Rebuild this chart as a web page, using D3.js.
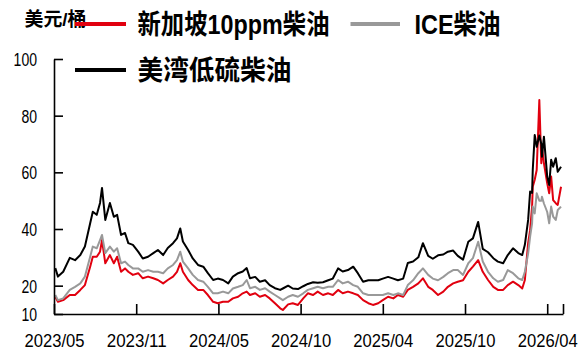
<!DOCTYPE html>
<html>
<head>
<meta charset="utf-8">
<script src="https://cdn.jsdelivr.net/npm/d3@7"></script>
<style>
  html, body { margin: 0; padding: 0; background: #fff; }
  svg { display: block; }
</style>
</head>
<body>
<svg id="chart" width="588" height="352"></svg>
<script>
// Trading-session index of each sample (session 0 = start of 2023/05)
const sessions = [
  2, 6, 14, 24, 32, 40, 47, 55, 59, 65, 70, 73, 78, 85, 91, 96, 102, 108, 113, 120,
  128, 135, 143, 151, 158, 166, 173, 181, 187, 192, 196, 204, 211, 219, 227, 234, 242, 249, 257, 265,
  272, 280, 287, 293,
  298, 306, 313, 321, 328, 336, 344, 348, 356, 363, 371, 379, 386, 394, 401, 409, 417, 424, 432, 439,
  447, 455, 462, 470, 478, 485, 493, 500, 508, 516, 523, 531, 538, 546, 554, 561, 569, 576, 584, 592,
  599, 607, 614, 622, 630, 637, 645, 652, 660,
  668, 675, 683, 690, 698, 706, 712, 716, 721, 724, 727, 728, 731, 734, 738, 741, 742, 745, 750, 753,
  756, 759, 763, 766, 771
];

// 新加坡10ppm柴油 (USD/bbl)
const singapore10ppm = [
  16.1, 14.3, 14.9, 16.7, 16.7, 18.5, 20.2, 26.7, 30.2, 30.2, 32.0, 36.1, 27.9, 30.8, 27.9, 30.2, 24.9, 26.1, 24.9, 23.8,
  24.4, 22.6, 23.2, 22.6, 22.0, 20.8, 22.0, 23.2, 24.9, 27.9, 24.9, 22.0, 20.2, 18.5, 18.5, 16.7, 14.3, 13.8, 14.3, 14.3,
  15.5, 16.1, 17.3, 17.9,
  16.7, 17.3, 16.1, 16.7, 15.5, 13.8, 12.0, 11.4, 13.4, 13.8, 13.2, 15.5, 17.3, 16.7, 17.9, 16.7, 17.3, 16.7, 18.5, 17.3,
  17.9, 17.3, 16.7, 14.9, 13.8, 13.2, 13.8, 14.9, 16.1, 15.5, 16.7, 16.1, 18.5, 19.6, 20.8, 22.6, 19.6, 18.5, 16.7, 17.9,
  19.6, 20.8, 21.4, 21.9, 24.9, 26.7, 29.0, 24.9, 22.0,
  19.6, 18.5, 18.5, 20.2, 21.4, 20.2, 19.0, 22.0, 35.0, 39.6, 47.9, 54.9, 57.4, 60.8, 85.5, 63.2, 69.0, 63.2, 56.1, 52.6,
  58.5, 50.2, 49.1, 48.5, 54.9
];

// ICE柴油 (USD/bbl)
const iceGasoil = [
  16.7, 14.9, 15.5, 18.5, 19.6, 20.8, 23.2, 30.2, 33.8, 33.2, 36.1, 37.9, 31.5, 33.8, 32.0, 33.2, 27.9, 28.5, 27.3, 26.1,
  26.1, 24.9, 25.5, 24.9, 24.9, 24.4, 26.1, 27.3, 29.0, 32.0, 28.5, 26.1, 23.8, 22.0, 21.4, 19.6, 17.3, 17.3, 17.9, 17.3,
  19.0, 19.6, 20.2, 22.0,
  19.1, 19.6, 18.5, 19.1, 17.9, 16.7, 15.5, 14.9, 16.1, 16.7, 16.1, 17.3, 18.5, 19.1, 19.6, 19.1, 19.6, 19.6, 22.0, 20.8,
  21.4, 20.2, 19.6, 17.3, 16.7, 16.7, 16.7, 16.7, 17.3, 16.7, 17.3, 16.7, 20.2, 21.9, 24.4, 26.1, 23.8, 22.5, 21.9, 23.1,
  24.4, 25.5, 25.5, 23.8, 27.9, 29.7, 35.5, 28.5, 24.9,
  22.6, 21.4, 22.0, 25.5, 24.4, 22.6, 22.0, 24.9, 31.4, 37.3, 42.0, 47.9, 45.5, 52.6, 50.0, 50.0, 51.4, 49.0, 46.0, 42.0,
  47.9, 44.4, 43.2, 46.7, 47.9
];

// 美湾低硫柴油 (USD/bbl)
const usGulfUlsd = [
  26.2, 23.2, 24.9, 29.8, 29.0, 30.8, 33.8, 42.0, 46.1, 45.0, 49.2, 54.5, 43.2, 49.2, 44.3, 45.0, 37.9, 38.6, 35.0, 34.4,
  32.0, 29.6, 30.2, 31.5, 32.6, 30.8, 33.3, 35.0, 36.7, 40.2, 35.6, 32.6, 29.6, 27.3, 26.7, 24.4, 22.0, 22.5, 22.0, 20.8,
  23.2, 24.4, 25.0, 26.2,
  22.6, 23.1, 21.4, 21.9, 20.2, 19.1, 18.5, 19.0, 20.0, 19.0, 18.8, 19.8, 20.6, 21.2, 21.0, 21.2, 21.9, 22.5, 26.1, 25.0,
  25.5, 26.7, 24.4, 21.4, 21.9, 21.9, 21.9, 22.5, 23.1, 22.5, 21.9, 22.5, 28.0, 28.5, 30.0, 35.0, 30.5, 29.5, 30.7, 31.0,
  32.0, 32.4, 30.5, 29.2, 35.5, 36.7, 42.5, 33.0, 31.8,
  29.7, 28.5, 27.9, 30.8, 33.2, 31.5, 30.8, 34.4, 43.2, 53.2, 52.7, 60.8, 73.2, 69.0, 73.0, 70.0, 65.5, 72.6, 58.5, 55.5,
  64.4, 62.0, 65.0, 60.2, 62.0
];

const seriesNames = ["新加坡10ppm柴油", "ICE柴油", "美湾低硫柴油"];
const seriesColors = ["#e1000f", "#999999", "#000000"];

const xTickSessions = [0, 125, 250, 375, 500, 625, 750, 774];
const xTickLabels = ["2023/05", "2023/11", "2024/05", "2024/10", "2025/04", "2025/10", "2026/04", ""];
const yTickValues = [10, 20, 40, 60, 80, 100];
const unitLabel = "美元/桶";

const svg = d3.select("#chart");
const numFont = "'Liberation Sans Narrow', 'Liberation Sans', Arial, sans-serif";
const cjkFont = "'Liberation Sans', 'Noto Sans CJK SC', sans-serif";

const x = d3.scaleLinear().domain([0, 774]).range([54, 563]);
const y = d3.scaleLinear().domain([10, 100]).range([314, 59]);

// Series lines
const series = [singapore10ppm, iceGasoil, usGulfUlsd];
const line = d3.line()
  .x((d, i) => x(sessions[i]))
  .y(d => y(d));

svg.append("g").selectAll("path")
  .data(series)
  .join("path")
  .attr("d", d => line(d))
  .attr("fill", "none")
  .attr("stroke", (d, i) => seriesColors[i])
  .attr("stroke-width", 2)
  .attr("stroke-linejoin", "round");

// Y axis: ticks point into the plot
const yAxis = svg.append("g")
  .attr("transform", "translate(54,0)")
  .call(d3.axisLeft(y).tickValues(yTickValues).tickSizeInner(-9).tickSizeOuter(0).tickPadding(17));
yAxis.select(".domain").attr("stroke", "#000").attr("stroke-width", 1.6);
yAxis.selectAll(".tick line").attr("stroke", "#000").attr("stroke-width", 1.6);
yAxis.selectAll(".tick text")
  .attr("font-family", numFont)
  .attr("font-size", 18)
  .attr("fill", "#000")
  .attr("dy", "0.36em")
  .attr("textLength", d => String(d).length * 7.8)
  .attr("lengthAdjust", "spacingAndGlyphs");

// X axis: ticks point up into the plot
const xAxis = svg.append("g")
  .attr("transform", "translate(0,314)")
  .call(d3.axisBottom(x).tickValues(xTickSessions)
    .tickFormat((d, i) => xTickLabels[i]).tickSizeInner(-10).tickSizeOuter(0));
xAxis.select(".domain").attr("stroke", "#000").attr("stroke-width", 1.6);
xAxis.selectAll(".tick line").attr("stroke", "#000").attr("stroke-width", 1.6);
xAxis.selectAll(".tick text")
  .attr("font-family", numFont)
  .attr("font-size", 18)
  .attr("fill", "#000")
  .attr("dy", null)
  .attr("y", 33)
  .attr("textLength", (d, i) => xTickLabels[i] ? 60 : null)
  .attr("lengthAdjust", "spacingAndGlyphs");

// Unit label
svg.append("text")
  .attr("x", 24.5).attr("y", 26)
  .attr("font-family", cjkFont)
  .attr("font-size", 19)
  .attr("font-weight", "bold")
  .attr("textLength", 62)
  .attr("lengthAdjust", "spacingAndGlyphs")
  .text(unitLabel);

// Legend
const legendItems = [
  { x1: 75, x2: 126, y: 24, tx: 137.5, tw: 192 },
  { x1: 350.5, x2: 400, y: 24, tx: 414.5, tw: 86 },
  { x1: 75, x2: 126, y: 70, tx: 137.5, tw: 154 }
];
const legend = svg.append("g");
legendItems.forEach((it, i) => {
  legend.append("line")
    .attr("x1", it.x1).attr("x2", it.x2)
    .attr("y1", it.y).attr("y2", it.y)
    .attr("stroke", seriesColors[i])
    .attr("stroke-width", 4);
  legend.append("text")
    .attr("x", it.tx).attr("y", it.y)
    .attr("dy", "0.36em")
    .attr("font-family", cjkFont)
    .attr("font-size", 27)
    .attr("font-weight", "bold")
    .attr("textLength", it.tw)
    .attr("lengthAdjust", "spacingAndGlyphs")
    .text(seriesNames[i]);
});
</script>
</body>
</html>
